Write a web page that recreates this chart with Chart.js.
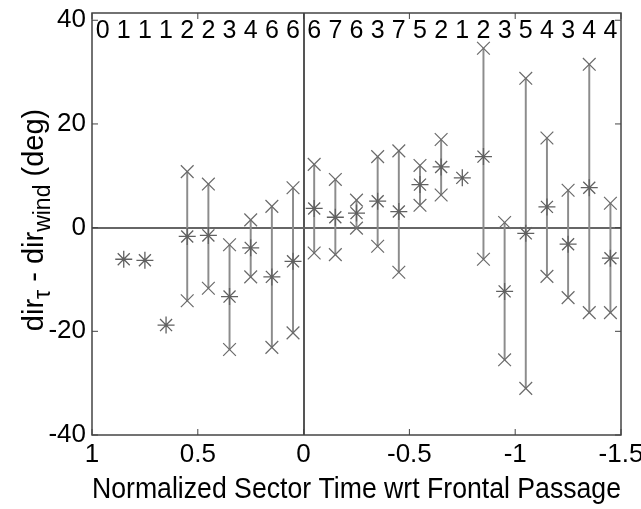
<!DOCTYPE html>
<html>
<head>
<meta charset="utf-8">
<script src="https://cdn.jsdelivr.net/npm/chart.js@4"></script>
<style>
  body { margin: 0; background: #fff; }
  canvas { display: block; }
</style>
</head>
<body>
<canvas id="myChart" width="641" height="509"></canvas>
<script>
// bin centres (normalized sector time) and the number of sectors in each bin
const binCenters = [0.95, 0.85, 0.75, 0.65, 0.55, 0.45, 0.35, 0.25, 0.15, 0.05,
  -0.05, -0.15, -0.25, -0.35, -0.45, -0.55, -0.65, -0.75, -0.85, -0.95,
  -1.05, -1.15, -1.25, -1.35, -1.45];
const counts = [0, 1, 1, 1, 2, 2, 3, 4, 6, 6, 6, 7, 6, 3, 7, 5, 2, 1, 2, 3, 5, 4, 3, 4, 4];

// dir_tau - dir_wind (deg): bin mean, max and min
const meanDiff = [null, -6.1, -6.3, -18.8, -1.7, -1.5, -13.3, -3.9, -9.5, -6.5,
  3.7, 2.0, 2.8, 5.1, 3.1, 8.3, 11.7, 9.6, 13.7, -12.3, -1.1, 4.0, -3.2, 7.7, -5.9];
const maxDiff = [null, null, null, null, 10.8, 8.4, -3.3, 1.5, 4.1, 7.7,
  12.2, 9.3, 5.3, 13.7, 14.8, 12.0, 17.0, null, 34.6, 1.0, 28.8, 17.3, 7.2, 31.5, 4.7];
const minDiff = [null, null, null, null, -14.1, -11.7, -23.5, -9.5, -23.1, -20.3,
  -4.9, -5.2, -0.1, -3.6, -8.6, 4.3, 6.3, null, -6.1, -25.5, -31.0, -9.4, -13.5, -16.4, -16.4];

const xTicks = [1, 0.5, 0, -0.5, -1, -1.5];
const yTicks = [-40, -20, 0, 20, 40];

const FONT = "'Liberation Sans', Arial, sans-serif";
const pts = (arr) => binCenters.map((x, i) => ({ x: x, y: arr[i] })).filter(p => p.y !== null);
const ranges = binCenters
  .map((x, i) => ({ x: x, y: [minDiff[i], maxDiff[i]] }))
  .filter(p => p.y[0] !== null && p.y[1] !== null);

// frame, inward tick marks, count labels and the y axis title
const decorations = {
  id: "decorations",
  afterDraw(chart) {
    const { ctx, chartArea: a, scales } = chart;
    const xs = scales.x, ys = scales.y;
    ctx.save();
    ctx.strokeStyle = "#444";
    ctx.lineWidth = 1.5;
    ctx.strokeRect(a.left, a.top, a.right - a.left, a.bottom - a.top);
    ctx.lineWidth = 1;
    ctx.beginPath();
    yTicks.forEach(v => {
      const y = ys.getPixelForValue(v);
      ctx.moveTo(a.left, y); ctx.lineTo(a.left + 6, y);
      ctx.moveTo(a.right, y); ctx.lineTo(a.right - 6, y);
    });
    xTicks.forEach(v => {
      const x = xs.getPixelForValue(v);
      ctx.moveTo(x, a.bottom); ctx.lineTo(x, a.bottom - 6);
      ctx.moveTo(x, a.top); ctx.lineTo(x, a.top + 6);
    });
    ctx.stroke();

    ctx.fillStyle = "#000";
    ctx.font = "25px " + FONT;
    ctx.textAlign = "center";
    ctx.textBaseline = "alphabetic";
    counts.forEach((c, i) => ctx.fillText(String(c), xs.getPixelForValue(binCenters[i]), a.top + 25));

    // y title with subscripts
    const parts = [["dir", 0], ["\u03C4", 1], [" - dir", 0], ["wind", 1], [" (deg)", 0]];
    const big = "29px " + FONT, small = "23px " + FONT;
    let total = 0;
    parts.forEach(p => { ctx.font = p[1] ? small : big; total += ctx.measureText(p[0]).width; });
    ctx.translate(43, (a.top + a.bottom) / 2 - 4);
    ctx.rotate(-Math.PI / 2);
    ctx.textAlign = "left";
    let cx = -total / 2;
    parts.forEach(p => {
      ctx.font = p[1] ? small : big;
      ctx.fillText(p[0], cx, p[1] ? 7 : 0);
      cx += ctx.measureText(p[0]).width;
    });
    ctx.restore();
  }
};

new Chart(document.getElementById("myChart"), {
  type: "scatter",
  data: {
    datasets: [
      {
        type: "bar",
        label: "range",
        data: ranges,
        backgroundColor: "#8c8c8c",
        borderWidth: 0,
        barThickness: 1.3,
        grouped: false,
        order: 4,
      },
      {
        label: "mean",
        data: pts(meanDiff),
        pointStyle: "star",
        radius: 8.5,
        borderColor: "#606060",
        borderWidth: 1.3,
        order: 1,
      },
      {
        label: "max",
        data: pts(maxDiff),
        pointStyle: "crossRot",
        radius: 9,
        borderColor: "#6a6a6a",
        borderWidth: 1.2,
        order: 2,
      },
      {
        label: "min",
        data: pts(minDiff),
        pointStyle: "crossRot",
        radius: 9,
        borderColor: "#6a6a6a",
        borderWidth: 1.2,
        order: 3,
      },
    ],
  },
  options: {
    responsive: false,
    animation: false,
    layout: { padding: { top: 13, right: 20, left: 0, bottom: 0 } },
    plugins: {
      legend: { display: false },
      tooltip: { enabled: false },
    },
    elements: { point: { hoverRadius: 8.5 } },
    scales: {
      x: {
        type: "linear",
        reverse: true,
        offset: false,
        min: -1.5,
        max: 1,
        afterBuildTicks: (scale) => { scale.ticks = xTicks.map(v => ({ value: v })); },
        afterFit: (scale) => {
          scale.height = 74;
          scale.paddingLeft = 0;
          scale.paddingRight = 0;
        },
        grid: {
          offset: false,
          drawTicks: false,
          color: (c) => (c.tick && c.tick.value === 0 ? "#555" : "rgba(0,0,0,0)"),
          lineWidth: 2,
        },
        border: { display: false },
        ticks: {
          color: "#000",
          padding: 4,
          maxRotation: 0,
          font: { family: FONT, size: 26 },
          callback: (v) => String(v),
        },
        title: {
          display: true,
          text: "Normalized Sector Time wrt Frontal Passage",
          color: "#000",
          font: { family: FONT, size: 29 },
          padding: { top: 0, bottom: 2 },
        },
      },
      y: {
        min: -40,
        max: 41.4,
        afterBuildTicks: (scale) => { scale.ticks = yTicks.map(v => ({ value: v })); },
        afterFit: (scale) => {
          scale.width = 92;
          scale.paddingTop = 0;
          scale.paddingBottom = 0;
        },
        grid: {
          drawTicks: false,
          color: (c) => (c.tick && c.tick.value === 0 ? "#666" : "rgba(0,0,0,0)"),
          lineWidth: 2,
        },
        border: { display: false },
        ticks: {
          color: "#000",
          padding: 6,
          font: { family: FONT, size: 26 },
        },
      },
    },
  },
  plugins: [decorations],
});
</script>
</body>
</html>
